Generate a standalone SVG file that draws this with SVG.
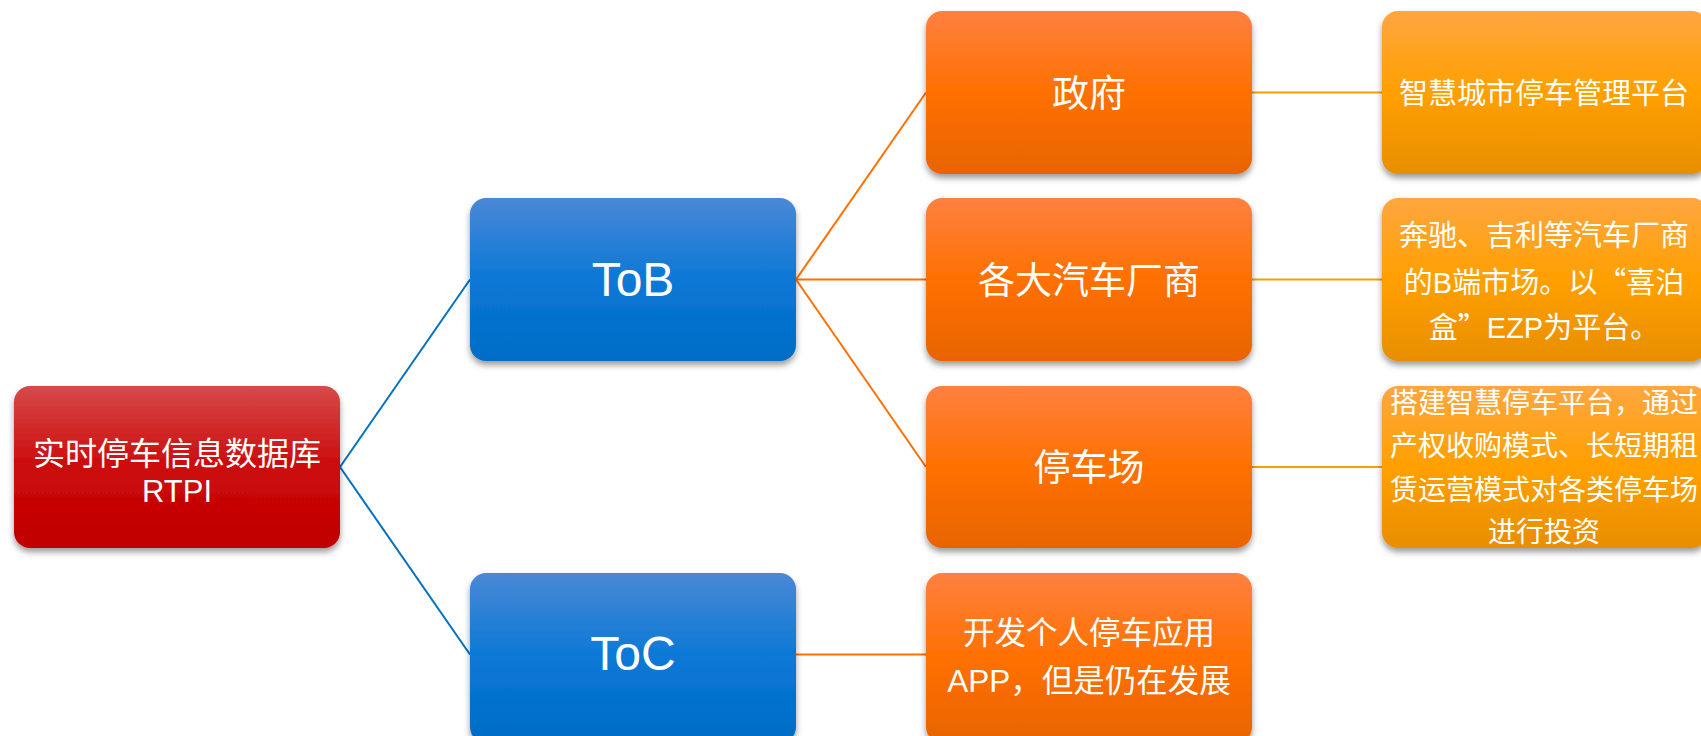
<svg xmlns="http://www.w3.org/2000/svg" width="1701" height="736" viewBox="0 0 1701 736">
  <defs>
    <linearGradient id="gRed" x1="0" y1="0" x2="0" y2="1">
      <stop offset="0" stop-color="#d64a4a"/>
      <stop offset="0.5" stop-color="#cc0a0a"/>
      <stop offset="1" stop-color="#c00000"/>
    </linearGradient>
    <linearGradient id="gBlue" x1="0" y1="0" x2="0" y2="1">
      <stop offset="0" stop-color="#4a88d6"/>
      <stop offset="0.5" stop-color="#0a78d6"/>
      <stop offset="1" stop-color="#006cc6"/>
    </linearGradient>
    <linearGradient id="gOrange" x1="0" y1="0" x2="0" y2="1">
      <stop offset="0" stop-color="#ff8040"/>
      <stop offset="0.5" stop-color="#ff7000"/>
      <stop offset="1" stop-color="#e86400"/>
    </linearGradient>
    <linearGradient id="gAmber" x1="0" y1="0" x2="0" y2="1">
      <stop offset="0" stop-color="#ffa640"/>
      <stop offset="0.5" stop-color="#ffa000"/>
      <stop offset="1" stop-color="#e88e00"/>
    </linearGradient>
    <filter id="shadow" x="-10%" y="-10%" width="120%" height="130%">
      <feDropShadow dx="0" dy="4" stdDeviation="3" flood-color="#000" flood-opacity="0.4"/>
    </filter>
  </defs>
  <style>
    .box { filter: url(#shadow); }
    .red { fill: url(#gRed); }
    .blue { fill: url(#gBlue); }
    .orange { fill: url(#gOrange); }
    .amber { fill: url(#gAmber); }
    text { fill: #ffffff; text-anchor: middle; font-family: "Noto Sans CJK SC", "Liberation Sans", sans-serif; }
    .lat { font-family: "Liberation Sans", "Noto Sans CJK SC", sans-serif; }
    .edge { fill: none; stroke-width: 2; }
    .eb { stroke: #0070c0; }
    .eo { stroke: #ff7000; }
    .ea { stroke: #f5a000; }
  </style>

  <rect width="1701" height="736" fill="#ffffff"/>

  <g id="connectors">
    <line class="edge eb" x1="340" y1="467" x2="470" y2="279.5"/>
    <line class="edge eb" x1="340" y1="467" x2="470" y2="654.5"/>
    <line class="edge eo" x1="796" y1="279.5" x2="926" y2="92.5"/>
    <line class="edge eo" x1="796" y1="279.5" x2="926" y2="279.5"/>
    <line class="edge eo" x1="796" y1="279.5" x2="926" y2="467"/>
    <line class="edge eo" x1="796" y1="654.5" x2="926" y2="654.5"/>
    <line class="edge ea" x1="1252" y1="92.5" x2="1382" y2="92.5"/>
    <line class="edge ea" x1="1252" y1="279.5" x2="1382" y2="279.5"/>
    <line class="edge ea" x1="1252" y1="467" x2="1382" y2="467"/>
  </g>

  <g id="root">
    <rect class="box red" x="14" y="386" width="326" height="162" rx="16"/>
    <text x="177" y="465" font-size="32">实时停车信息数据库</text>
    <text class="lat" x="177" y="502" font-size="31">RTPI</text>
  </g>

  <g id="tob">
    <rect class="box blue" x="470" y="198" width="326" height="163" rx="16"/>
    <text class="lat" x="633" y="296" font-size="48">ToB</text>
  </g>

  <g id="toc">
    <rect class="box blue" x="470" y="573" width="326" height="170" rx="16"/>
    <text class="lat" x="633" y="670" font-size="48">ToC</text>
  </g>

  <g id="gov">
    <rect class="box orange" x="926" y="11" width="326" height="163" rx="16"/>
    <text x="1089" y="107" font-size="37">政府</text>
  </g>

  <g id="carmakers">
    <rect class="box orange" x="926" y="198" width="326" height="163" rx="16"/>
    <text x="1089" y="294" font-size="37">各大汽车厂商</text>
  </g>

  <g id="parking">
    <rect class="box orange" x="926" y="386" width="326" height="162" rx="16"/>
    <text x="1089" y="481" font-size="37">停车场</text>
  </g>

  <g id="app">
    <rect class="box orange" x="926" y="573" width="326" height="170" rx="16"/>
    <text x="1089" y="644" font-size="31.5">开发个人停车应用</text>
    <text x="1089" y="692" font-size="31.5"><tspan class="lat">APP</tspan>，但是仍在发展</text>
  </g>

  <g id="smartcity">
    <rect class="box amber" x="1382" y="11" width="326" height="163" rx="16"/>
    <text x="1544" y="104" font-size="29">智慧城市停车管理平台</text>
  </g>

  <g id="ezp">
    <rect class="box amber" x="1382" y="198" width="326" height="163" rx="16"/>
    <text x="1544" y="246" font-size="29">奔驰、吉利等汽车厂商</text>
    <text x="1544" y="293" font-size="29">的<tspan class="lat">B</tspan>端市场。以“喜泊</text>
    <text x="1544" y="338" font-size="29">盒”<tspan class="lat">EZP</tspan>为平台。</text>
  </g>

  <g id="invest">
    <rect class="box amber" x="1382" y="386" width="326" height="162" rx="16"/>
    <text x="1544" y="413" font-size="28">搭建智慧停车平台，通过</text>
    <text x="1544" y="456" font-size="28">产权收购模式、长短期租</text>
    <text x="1544" y="500" font-size="28">赁运营模式对各类停车场</text>
    <text x="1544" y="542" font-size="28">进行投资</text>
  </g>
</svg>
